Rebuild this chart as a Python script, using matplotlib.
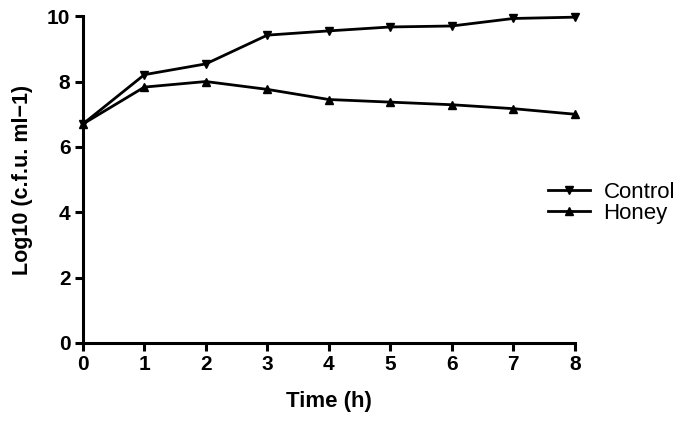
import matplotlib
matplotlib.use('Agg')
import matplotlib.pyplot as plt

plt.rcParams['font.family'] = ['Liberation Sans', 'DejaVu Sans']

time_h = [0, 1, 2, 3, 4, 5, 6, 7, 8]
control = [6.7, 8.21, 8.54, 9.42, 9.55, 9.67, 9.7, 9.93, 9.97]
honey = [6.7, 7.83, 8.0, 7.76, 7.45, 7.37, 7.29, 7.17, 7.0]

fig = plt.figure(figsize=(6.85, 4.26), dpi=100)
ax = fig.add_axes([0.121, 0.195, 0.718, 0.767])

ax.plot(time_h, control, '-', color='black', lw=2, marker='v', ms=6, label='Control', clip_on=False)
ax.plot(time_h, honey, '-', color='black', lw=2, marker='^', ms=6, label='Honey', clip_on=False)

ax.set_xlim(0, 8)
ax.set_ylim(0, 10)
ax.set_xticks(time_h)
ax.set_yticks([0, 2, 4, 6, 8, 10])
for s in ['top', 'right']:
    ax.spines[s].set_visible(False)
for s in ['left', 'bottom']:
    ax.spines[s].set_linewidth(2.2)
ax.tick_params(width=2.2, length=6, labelsize=15, pad=3)
for lbl in ax.get_xticklabels() + ax.get_yticklabels():
    lbl.set_fontweight('bold')

ax.set_xlabel('Time (h)', fontsize=16, fontweight='bold', labelpad=12)
ax.set_ylabel('Log10 (c.f.u. ml\u22121)', fontsize=15.5, fontweight='bold', labelpad=10)

fig.legend(loc='center left', bbox_to_anchor=(0.80, 0.523), frameon=False, fontsize=16,
           handlelength=1.9, handletextpad=0.6, labelspacing=0.0,
           borderpad=0, borderaxespad=0)

fig.savefig('out.png', dpi=100)
